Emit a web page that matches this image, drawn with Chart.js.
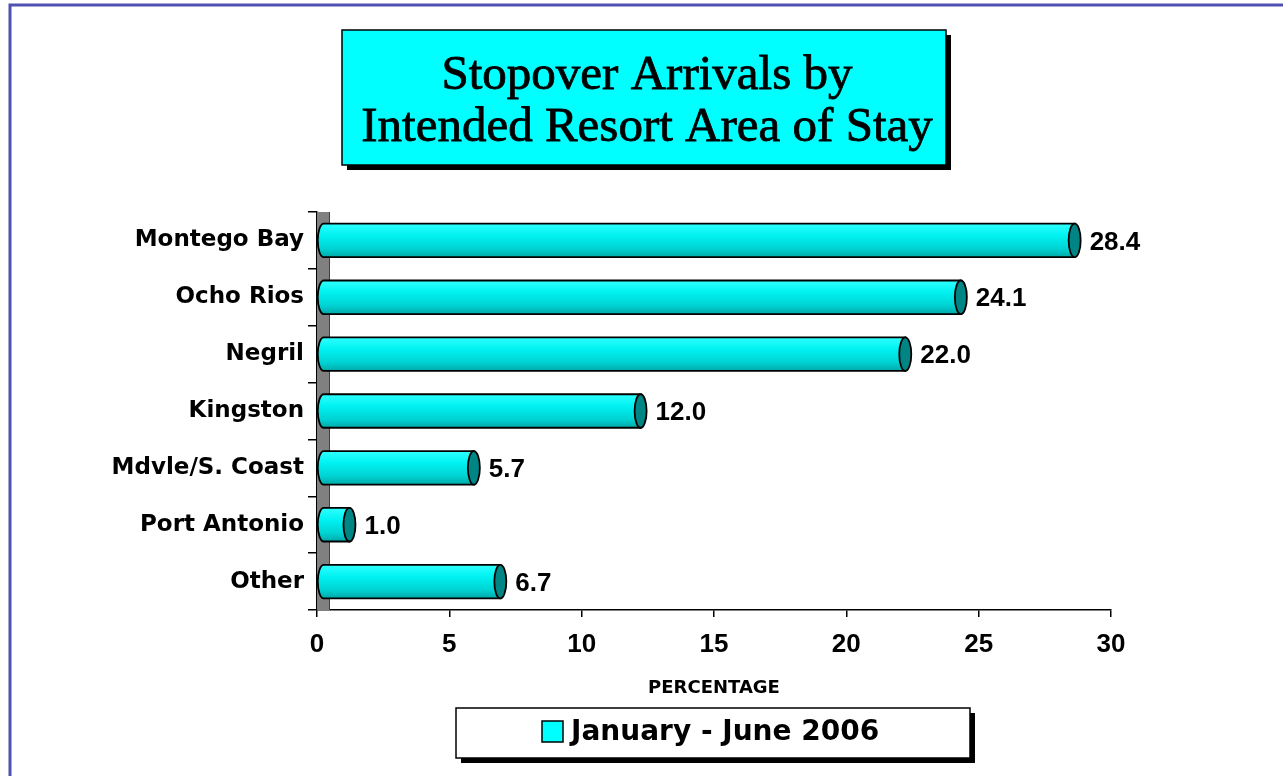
<!DOCTYPE html>
<html>
<head>
<meta charset="utf-8">
<script src="https://cdn.jsdelivr.net/npm/chart.js@4"></script>
<style>
  html, body { margin: 0; padding: 0; background: #fff; }
  #wrap { position: relative; width: 1283px; height: 776px; }
</style>
</head>
<body>
<div id="wrap"><canvas id="resortChart"></canvas></div>
<script>
// chart data
const resortAreas = ['Montego Bay', 'Ocho Rios', 'Negril', 'Kingston', 'Mdvle/S. Coast', 'Port Antonio', 'Other'];
const percentShares = [28.4, 24.1, 22.0, 12.0, 5.7, 1.0, 6.7];
const xTickValues = [0, 5, 10, 15, 20, 25, 30];
const titleLines = ['Stopover Arrivals by', 'Intended Resort Area of Stay'];
const seriesLabel = 'January - June 2006';
const xAxisTitle = 'PERCENTAGE';

const CYAN = '#00ffff';
const TEAL = '#008585';
const numFont = 'bold 26px "Liberation Sans", Arial, sans-serif';
const depth = 6; // fake 3d offset of the cylinders

// page frame, title box, wall, legend, axis title
const decorPlugin = {
    id: 'decor',
    beforeDraw(chart) {
        const c = chart.ctx;
        c.save();
        c.fillStyle = '#fff';
        c.fillRect(0, 0, chart.width, chart.height);
        c.strokeStyle = '#5050b0';
        c.lineWidth = 3;
        c.beginPath();
        c.moveTo(10, chart.height);
        c.lineTo(10, 5);
        c.lineTo(chart.width, 5);
        c.stroke();

        // title box
        c.fillStyle = '#000';
        c.fillRect(347, 35, 604, 135);
        c.fillStyle = CYAN;
        c.fillRect(342, 30, 604, 135);
        c.strokeStyle = '#000';
        c.lineWidth = 1.5;
        c.strokeRect(342, 30, 604, 135);
        c.fillStyle = '#000';
        c.textAlign = 'center';
        c.textBaseline = 'middle';
        c.font = '49px "Liberation Serif", "Times New Roman", serif';
        c.lineWidth = 0.8;
        titleLines.forEach(function(line, k) {
            const ty = 76 + k * 52;
            c.fillText(line, 647, ty);
            c.strokeText(line, 647, ty);
        });
        c.restore();
    },
    beforeDatasetsDraw(chart) {
        const c = chart.ctx;
        const a = chart.chartArea;
        c.save();
        c.fillStyle = '#808080';
        c.fillRect(a.left, a.top, 12, a.bottom - a.top);
        c.strokeStyle = '#404040';
        c.lineWidth = 1;
        c.beginPath();
        c.moveTo(a.left + 12.5, a.top);
        c.lineTo(a.left + 12.5, a.bottom);
        c.stroke();
        c.restore();
    },
    afterDraw(chart) {
        const c = chart.ctx;
        const xs = chart.scales.x;
        c.save();
        c.fillStyle = '#000';
        c.textAlign = 'center';
        c.textBaseline = 'middle';
        c.font = 'bold 18px "DejaVu Sans", sans-serif';
        c.fillText(xAxisTitle, (xs.left + xs.right) / 2, 688);

        // legend box
        c.fillStyle = '#000';
        c.fillRect(461, 713, 514, 50);
        c.fillStyle = '#fff';
        c.fillRect(456, 708, 514, 50);
        c.strokeStyle = '#000';
        c.lineWidth = 1.5;
        c.strokeRect(456, 708, 514, 50);
        c.fillStyle = CYAN;
        c.fillRect(542, 721, 21, 21);
        c.strokeRect(542, 721, 21, 21);
        c.fillStyle = '#000';
        c.textAlign = 'left';
        c.font = 'bold 28px "DejaVu Sans", sans-serif';
        c.fillText(seriesLabel, 571, 733);
        c.restore();
    }
};

// cylinders + value labels
const cylinderPlugin = {
    id: 'cylinders',
    afterDatasetsDraw(chart) {
        const c = chart.ctx;
        const meta = chart.getDatasetMeta(0);
        c.save();
        meta.data.forEach(function(bar, i) {
            const h = bar.height;
            const top = bar.y - h / 2;
            const bot = bar.y + h / 2;
            const x0 = bar.base + depth;
            const x1 = bar.x + depth;
            const ry = h / 2;

            const grad = c.createLinearGradient(0, top, 0, bot);
            grad.addColorStop(0, '#30ffff');
            grad.addColorStop(0.35, '#00f2f2');
            grad.addColorStop(0.75, '#00d2d2');
            grad.addColorStop(1, '#00a8a8');

            c.beginPath();
            c.moveTo(x0, top);
            c.lineTo(x1, top);
            c.lineTo(x1, bot);
            c.lineTo(x0, bot);
            c.ellipse(x0, bar.y, depth, ry, 0, Math.PI / 2, Math.PI * 1.5);
            c.closePath();
            c.fillStyle = grad;
            c.fill();
            c.strokeStyle = '#000';
            c.lineWidth = 1.8;
            c.stroke();

            c.beginPath();
            c.ellipse(x1, bar.y, depth, ry, 0, 0, Math.PI * 2);
            c.fillStyle = TEAL;
            c.fill();
            c.stroke();

            c.fillStyle = '#000';
            c.font = numFont;
            c.textAlign = 'left';
            c.textBaseline = 'middle';
            c.fillText(percentShares[i].toFixed(1), bar.x + 21, bar.y + 2);
        });
        c.restore();
    }
};

new Chart(document.getElementById('resortChart'), {
    type: 'bar',
    data: {
        labels: resortAreas,
        datasets: [{
            label: seriesLabel,
            data: percentShares,
            backgroundColor: 'rgba(0,0,0,0)',
            borderWidth: 0,
            categoryPercentage: 1,
            barPercentage: 0.59
        }]
    },
    options: {
        indexAxis: 'y',
        responsive: true,
        maintainAspectRatio: false,
        animation: false,
        layout: {
            padding: { left: 0, top: 212, right: 172, bottom: 0 }
        },
        plugins: {
            legend: { display: false },
            tooltip: { enabled: false },
            title: { display: false }
        },
        scales: {
            x: {
                min: 0,
                max: 30,
                afterBuildTicks: function(scale) {
                    scale.ticks = xTickValues.map(v => ({ value: v }));
                },
                afterFit: function(scale) {
                    scale.height = 166;
                },
                ticks: {
                    font: { family: '"Liberation Sans", Arial, sans-serif', size: 26, weight: 'bold' },
                    color: '#000',
                    padding: 12,
                    maxRotation: 0
                },
                grid: {
                    drawOnChartArea: false,
                    tickLength: 7,
                    color: '#000',
                    lineWidth: 1.5
                },
                border: { color: '#000', width: 1.5 }
            },
            y: {
                afterFit: function(scale) {
                    scale.width = 317;
                },
                ticks: {
                    font: { family: '"DejaVu Sans", sans-serif', size: 23, weight: 'bold' },
                    color: '#000',
                    padding: 4
                },
                grid: {
                    offset: true,
                    drawOnChartArea: false,
                    tickLength: 9,
                    color: '#000',
                    lineWidth: 1.5
                },
                border: { color: '#000', width: 1.5 }
            }
        }
    },
    plugins: [decorPlugin, cylinderPlugin]
});
</script>
</body>
</html>
